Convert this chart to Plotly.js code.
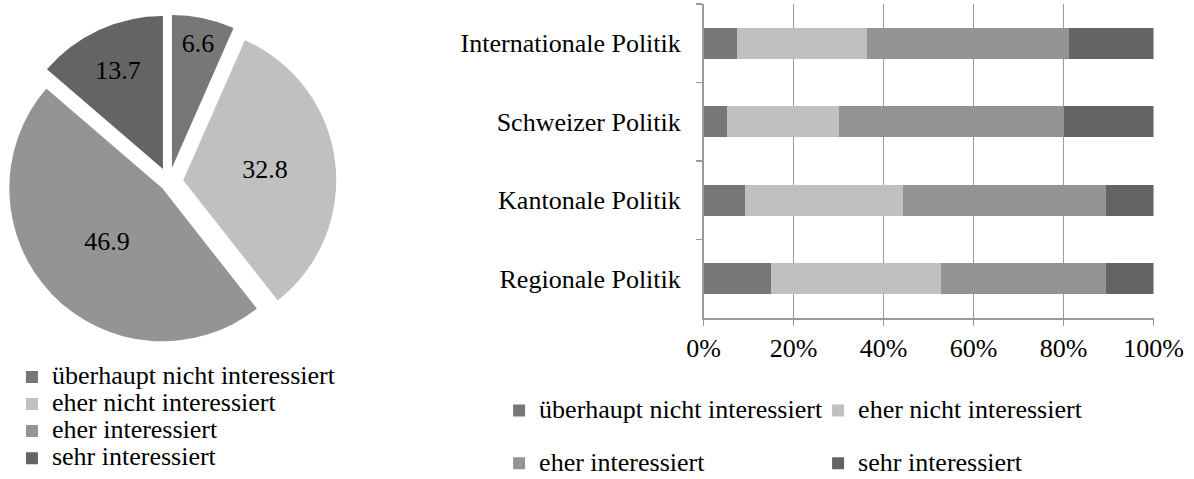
<!DOCTYPE html>
<html>
<head>
<meta charset="utf-8">
<script src="https://cdn.plot.ly/plotly-3.0.1.min.js"></script>
<style>html,body{margin:0;padding:0;background:#fff;}#chart{width:1194px;height:479px;}</style>
</head>
<body>
<div id="chart"></div>
<script>
// ---- data ----
const seriesNames = ["überhaupt nicht interessiert", "eher nicht interessiert", "eher interessiert", "sehr interessiert"];
const pieValues = [6.6, 32.8, 46.9, 13.7];
const barCategories = ["Internationale Politik", "Schweizer Politik", "Kantonale Politik", "Regionale Politik"];
const valsUeberhauptNicht = [7.4, 5.2, 9.3, 15.0];
const valsEherNicht = [28.9, 25.0, 35.1, 37.8];
const valsEher = [44.9, 49.8, 45.0, 36.6];
const valsSehr = [18.8, 20.0, 10.6, 10.6];
const xTickVals = [0, 20, 40, 60, 80, 100];
const xTickText = ["0%", "20%", "40%", "60%", "80%", "100%"];

// ---- styling ----
const colors = ["#777777", "#c0c0c0", "#949494", "#646464"];
const FONT = "Liberation Serif";
const big = s => '<span style="font-size:26px">' + s + '</span>';

const barSeries = [valsUeberhauptNicht, valsEherNicht, valsEher, valsSehr];
const barLegends = ["legend2", "legend2", "legend3", "legend3"];

const traces = [];
traces.push({
  type: "pie",
  labels: seriesNames.map(big),
  values: pieValues,
  sort: false,
  direction: "clockwise",
  rotation: 0,
  pull: [0.094, 0.094, 0.06, 0.094],
  marker: {colors: colors, line: {width: 0}},
  texttemplate: "%{value}",
  textposition: "inside",
  insidetextorientation: "horizontal",
  textfont: {family: FONT, size: 26, color: "#000"},
  domain: {x: [0.0013, 0.2817], y: [0.2706, 0.9695]},
  legend: "legend",
  hoverinfo: "label+value"
});

barSeries.forEach((vals, i) => {
  traces.push({
    type: "bar",
    orientation: "h",
    name: big(seriesNames[i]),
    y: barCategories,
    x: vals,
    marker: {color: colors[i], line: {width: 0}},
    legend: barLegends[i],
    hoverinfo: "x+y"
  });
});

const layout = {
  width: 1194,
  height: 479,
  margin: {l: 0, r: 0, t: 0, b: 0, autoexpand: false},
  paper_bgcolor: "#fff",
  plot_bgcolor: "#fff",
  font: {family: FONT, size: 26, color: "#000"},
  uniformtext: {mode: "show", minsize: 26},
  barmode: "stack",
  bargap: 0.61,
  xaxis: {
    domain: [0.5892, 0.9661],
    range: [0, 100],
    tickvals: xTickVals,
    ticktext: xTickText,
    showgrid: true,
    gridcolor: "#9a9a9a",
    gridwidth: 1.5,
    zeroline: false,
    showline: true,
    linecolor: "#9a9a9a",
    linewidth: 1.5,
    ticks: "outside",
    ticklen: 6,
    tickcolor: "#9a9a9a",
    tickwidth: 1.5,
    tickfont: {family: FONT, size: 26, color: "#000"},
    fixedrange: true
  },
  yaxis: {
    domain: [0.3361, 0.9916],
    type: "category",
    categoryorder: "array",
    categoryarray: barCategories,
    autorange: "reversed",
    showgrid: false,
    zeroline: false,
    showline: true,
    linecolor: "#9a9a9a",
    linewidth: 1.5,
    ticks: "outside",
    tickson: "boundaries",
    ticklen: 6,
    tickcolor: "#9a9a9a",
    tickwidth: 1.5,
    ticklabelstandoff: 16,
    tickfont: {family: FONT, size: 26, color: "#000"},
    fixedrange: true
  },
  showlegend: true,
  legend: {
    x: 0.0100, y: 0.2516, xanchor: "left", yanchor: "top",
    orientation: "v",
    font: {family: FONT, size: 18.5, color: "#000"},
    bgcolor: "rgba(0,0,0,0)",
    traceorder: "normal"
  },
  legend2: {
    x: 0.418, y: 0.1825, xanchor: "left", yanchor: "top",
    orientation: "h",
    entrywidth: 274,
    entrywidthmode: "pixels",
    font: {family: FONT, size: 19, color: "#000"},
    bgcolor: "rgba(0,0,0,0)",
    traceorder: "normal"
  },
  legend3: {
    x: 0.418, y: 0.0724, xanchor: "left", yanchor: "top",
    orientation: "h",
    entrywidth: 274,
    entrywidthmode: "pixels",
    font: {family: FONT, size: 19, color: "#000"},
    bgcolor: "rgba(0,0,0,0)",
    traceorder: "normal"
  }
};

Plotly.newPlot("chart", traces, layout, {displayModeBar: false, staticPlot: true});
</script>
</body>
</html>
